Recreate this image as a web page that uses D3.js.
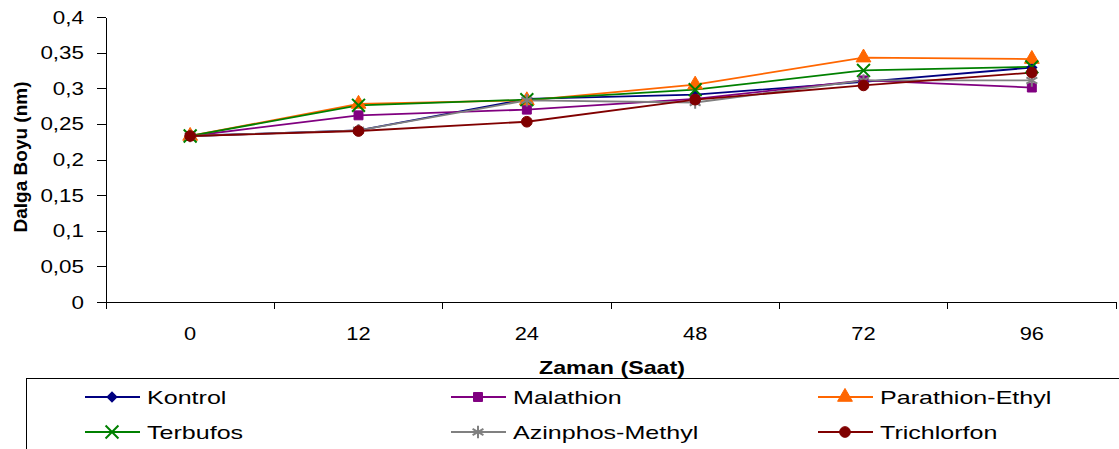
<!DOCTYPE html>
<meta charset="utf-8">
<style>
body { margin: 0; background: #fff; }
text { font-family: "Liberation Sans", Arial, sans-serif; fill: #000; }
.axis path, .axis line { stroke: #000; shape-rendering: crispEdges; }
.lines { fill: none; stroke-width: 1.8px; }
</style>
<svg width="1119" height="449"></svg>
<script src="https://d3js.org/d3.v7.min.js"></script>
<script>

var hours = ["0", "12", "24", "48", "72", "96"];
var yTicks = [0, 0.05, 0.1, 0.15, 0.2, 0.25, 0.3, 0.35, 0.4];

var kontrol        = [0.233, 0.241, 0.285, 0.291, 0.309, 0.329];
var malathion      = [0.233, 0.262, 0.270, 0.285, 0.311, 0.301];
var parathionEthyl = [0.233, 0.278, 0.283, 0.305, 0.343, 0.341];
var terbufos       = [0.233, 0.276, 0.284, 0.298, 0.325, 0.330];
var azinphosMethyl = [0.233, 0.241, 0.283, 0.280, 0.311, 0.311];
var trichlorfon    = [0.233, 0.240, 0.253, 0.284, 0.304, 0.322];

var series = [
  {name: "Kontrol", values: kontrol, color: "#000080", symbol: "diamond"},
  {name: "Malathion", values: malathion, color: "#800080", symbol: "square"},
  {name: "Parathion-Ethyl", values: parathionEthyl, color: "#FF6600", symbol: "triangle"},
  {name: "Terbufos", values: terbufos, color: "#008000", symbol: "cross"},
  {name: "Azinphos-Methyl", values: azinphosMethyl, color: "#808080", symbol: "star"},
  {name: "Trichlorfon", values: trichlorfon, color: "#800000", symbol: "circle"}
];

var svg = d3.select("svg"),
    margin = {top: 17, right: 3, bottom: 147, left: 106},
    width = +svg.attr("width") - margin.left - margin.right,
    height = +svg.attr("height") - margin.top - margin.bottom,
    g = svg.append("g").attr("transform", "translate(" + margin.left + "," + margin.top + ")");

var x = d3.scaleBand().domain(hours).range([0, width]);
var y = d3.scaleLinear().domain([0, 0.4]).range([height, 0]);

var fmt = function(d) { return String(d).replace(".", ","); };

// text that is a bit wider than the font, like the original export
function wideText(sel, px, py, sx, size, anchor, txt) {
  return sel.append("text")
      .attr("transform", "translate(" + px + "," + py + ") scale(" + sx + ",1)")
      .attr("text-anchor", anchor)
      .style("font-size", size + "px")
      .text(txt);
}

// y axis
var yAxis = g.append("g").attr("class", "axis")
    .call(d3.axisLeft(y).tickValues(yTicks).tickSize(9).tickSizeOuter(0).tickFormat(""));
yTicks.forEach(function(t) {
  wideText(g, -22, y(t) + 6.5, 1.18, 19, "end", fmt(t));
});

// x axis with ticks on band edges
var xAxis = g.append("g").attr("class", "axis")
    .attr("transform", "translate(0," + height + ")");
xAxis.append("line").attr("x1", 0).attr("x2", width).attr("y1", 0).attr("y2", 0);
xAxis.selectAll(".edge").data(hours.concat(["end"])).enter().append("line")
    .attr("class", "edge")
    .attr("x1", function(d, i) { return i * x.step(); })
    .attr("x2", function(d, i) { return i * x.step(); })
    .attr("y1", 0).attr("y2", 7);
hours.forEach(function(h) {
  wideText(xAxis, x(h) + x.bandwidth() / 2, 38, 1.15, 19, "middle", h);
});

// axis titles
svg.append("text")
    .attr("transform", "translate(27,157) rotate(-90)")
    .attr("text-anchor", "middle")
    .style("font-size", "19px").style("font-weight", "bold")
    .text("Dalga Boyu (nm)");

wideText(svg, 612, 374, 1.33, 17.5, "middle", "Zaman (Saat)")
    .style("font-weight", "bold");

var line = d3.line()
    .x(function(d, i) { return x(hours[i]) + x.bandwidth() / 2; })
    .y(function(d) { return y(d); });

function drawMarker(sel, s) {
  var sym = {
    diamond: d3.symbol().type(d3.symbolSquare).size(50),
    square: d3.symbol().type(d3.symbolSquare).size(80),
    triangle: d3.symbol().type(d3.symbolTriangle).size(95),
    circle: d3.symbol().type(d3.symbolCircle).size(90),
    cross: d3.symbol().type(d3.symbolX).size(110),
    star: d3.symbol().type(d3.symbolAsterisk).size(110)
  }[s.symbol];
  var outline = (s.symbol == "cross" || s.symbol == "star");
  sel.append("path")
      .attr("d", sym)
      .attr("transform", s.symbol == "diamond" ? "rotate(45)" : null)
      .attr("fill", outline ? "none" : s.color)
      .attr("stroke", s.color)
      .attr("stroke-width", outline ? 2 : 1);
}

series.forEach(function(s) {
  g.append("path")
      .datum(s.values)
      .attr("class", "lines")
      .attr("stroke", s.color)
      .attr("d", line);
});

series.forEach(function(s) {
  g.selectAll(null).data(s.values).enter().append("g")
      .attr("transform", function(d, i) {
        return "translate(" + (x(hours[i]) + x.bandwidth() / 2) + "," + y(d) + ")";
      })
      .each(function() { drawMarker(d3.select(this), s); });
});

// legend
var legend = svg.append("g");
legend.append("rect")
    .attr("x", 26.5).attr("y", 378.5)
    .attr("width", 1100).attr("height", 90)
    .attr("fill", "none").attr("stroke", "#000").attr("stroke-width", 1);

var colX = [85, 451, 818];
var rowY = [397, 432];
series.forEach(function(s, i) {
  var cx = colX[i % 3], cy = rowY[Math.floor(i / 3)];
  var it = legend.append("g").attr("transform", "translate(" + cx + "," + cy + ")");
  it.append("line").attr("x1", 0).attr("x2", 55).attr("y1", 0).attr("y2", 0)
      .attr("stroke", s.color).attr("stroke-width", 1.8);
  drawMarker(it.append("g").attr("transform", "translate(27,0)"), s);
  wideText(it, 62, 6.5, 1.32, 19, "start", s.name);
});

</script>
